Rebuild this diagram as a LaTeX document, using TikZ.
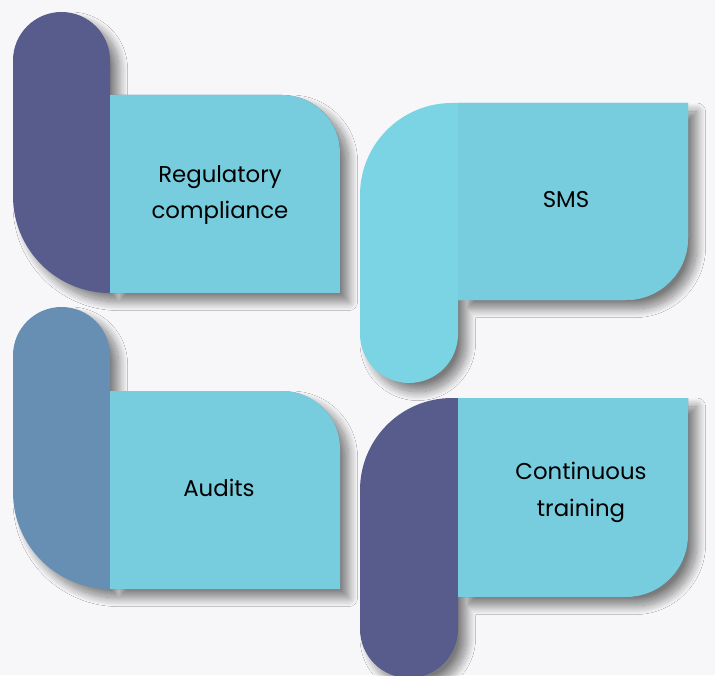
\documentclass[tikz,border=0pt]{standalone}
\usepackage{fontspec}
\setmainfont{Poppins}
\usetikzlibrary{shadows.blur}
\definecolor{bgpage}{HTML}{F7F7F9}
\definecolor{navytab}{HTML}{575C8C}
\definecolor{steeltab}{HTML}{668FB3}
\definecolor{skytab}{HTML}{7AD4E3}
\definecolor{panelcyan}{HTML}{77CDDD}

\begin{document}
\begin{tikzpicture}[x=0.02cm,y=0.02cm,
  shade/.style = {blur shadow={shadow xshift=5pt,shadow yshift=-5pt,shadow blur radius=5pt,shadow blur steps=20,shadow opacity=50}},
  panel/.style = {fill = panelcyan},
  boxtext/.style = {align = center, text = black, font = \fontsize{13}{21}\selectfont},]
\fill[bgpage] (0,0) rectangle (715,-675);
\useasboundingbox (0,0) rectangle (715,-675);
% top left
\fill[shade,navytab] (110,-293) -- (110,-60.5) arc[start angle=0,end angle=180,radius=48.5] -- (13,-196) arc[start angle=180,end angle=270,radius=97] -- cycle
  (110,-95) -- (282,-95) arc[start angle=90,end angle=0,radius=58] -- (340,-293) -- (110,-293) -- cycle;
\fill[panel] (110,-95) -- (282,-95) arc[start angle=90,end angle=0,radius=58] -- (340,-293) -- (110,-293) -- cycle;
% top right
\fill[shade,skytab] (458,-103) -- (452,-103) arc[start angle=90,end angle=180,radius=92] -- (360,-334) arc[start angle=180,end angle=360,radius=49] -- cycle
  (458,-103) -- (688,-103) -- (688,-238) arc[start angle=0,end angle=-90,radius=62] -- (458,-300) -- cycle;
\fill[panel] (458,-103) -- (688,-103) -- (688,-238) arc[start angle=0,end angle=-90,radius=62] -- (458,-300) -- cycle;
% bottom left
\fill[shade,steeltab] (110,-589) -- (110,-355.5) arc[start angle=0,end angle=180,radius=48.5] -- (13,-492) arc[start angle=180,end angle=270,radius=97] -- cycle
  (110,-391) -- (282,-391) arc[start angle=90,end angle=0,radius=58] -- (340,-589) -- (110,-589) -- cycle;
\fill[panel] (110,-391) -- (282,-391) arc[start angle=90,end angle=0,radius=58] -- (340,-589) -- (110,-589) -- cycle;
% bottom right
\fill[shade,navytab] (458,-398) -- (452,-398) arc[start angle=90,end angle=180,radius=92] -- (360,-629) arc[start angle=180,end angle=360,radius=49] -- cycle
  (458,-398) -- (688,-398) -- (688,-535) arc[start angle=0,end angle=-90,radius=62] -- (458,-597) -- cycle;
\fill[panel] (458,-398) -- (688,-398) -- (688,-535) arc[start angle=0,end angle=-90,radius=62] -- (458,-597) -- cycle;
\node (reg) at (220,-195)[boxtext] {Regulatory\\compliance};
\node (sms) at (566,-200)[boxtext] {SMS};
\node (aud) at (219,-488)[boxtext] {Audits};
\node (train) at (581,-492)[boxtext] {Continuous\\training};
\end{tikzpicture}
\end{document}
